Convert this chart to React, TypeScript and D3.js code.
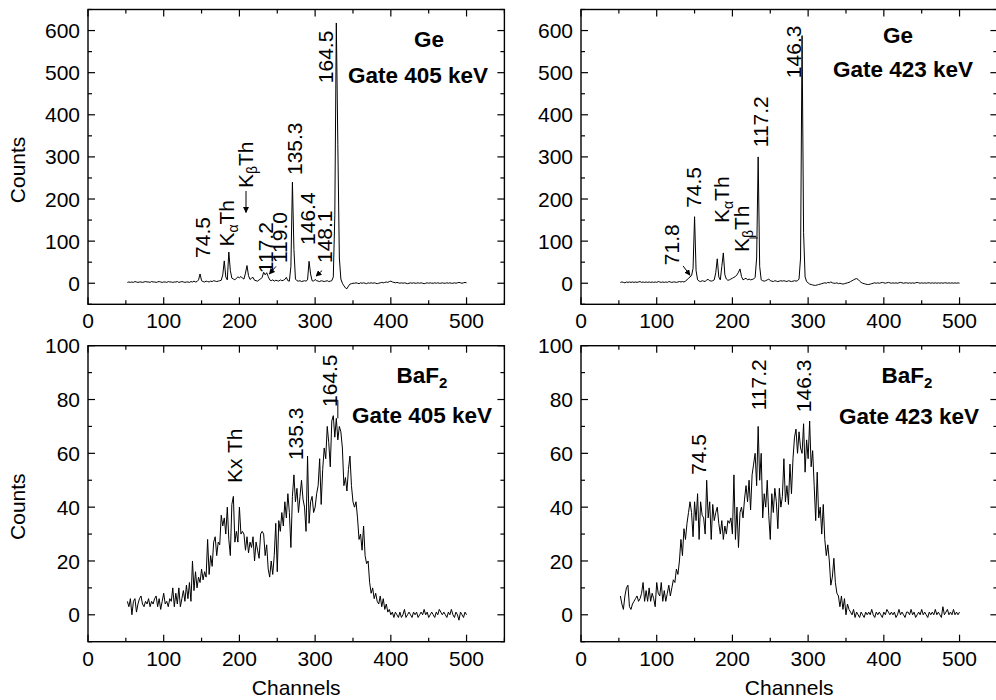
import React from 'react';
import * as d3 from 'd3';

// Spectra sampled every 2 channels from channel 52 to 500
const CH_START = 52;
const CH_STEP = 2;

const geGate405 = [
  2, 3, 2, 3, 2, 4, 3, 2, 3, 3,
  2, 3, 4, 3, 3, 2, 4, 3, 3, 2,
  3, 4, 3, 2, 3, 3, 2, 4, 3, 3,
  2, 3, 3, 4, 2, 3, 4, 3, 2, 3,
  3, 2, 4, 3, 5, 3, 4, 8, 22, 6,
  4, 3, 5, 4, 3, 5, 4, 6, 5, 4,
  5, 6, 7, 20, 53, 15, 8, 74, 30, 12,
  10, 8, 12, 15, 13, 16, 12, 10, 24, 42,
  18, 9, 12, 14, 7, 6, 5, 8, 10, 14,
  26, 20, 25, 16, 8, 6, 8, 5, 7, 6,
  5, 8, 6, 7, 9, 14, 6, 5, 40, 240,
  80, 10, 6, 5, 6, 4, 5, 6, 5, 8,
  52, 22, 6, 5, 9, 6, 5, 4, 6, 5,
  4, 5, 6, 4, 5, 6, 15, 160, 618, 330,
  60, 10, 0, -6, -11, -13, -7, -2, -1, 0,
  0, 1, 0, -1, 1, 0, 1, 0, -1, 1,
  0, 1, 0, 1, 0, -1, 0, 1, 2, 1,
  2, 3, 2, 4, 5, 3, 2, 1, 2, 1,
  0, 1, 0, 1, 0, -1, 0, 1, 0, 1,
  0, 0, 1, 0, 1, 0, -1, 0, 1, 0,
  1, 0, 0, 1, 0, 1, 0, 0, 1, 0,
  0, 1, 0, 1, 0, 0, 1, 0, 1, 2,
  1, 0, 1, 2, 1,
];

const geGate423 = [
  2, 3, 2, 1, 3, 2, 3, 2, 3, 2,
  3, 2, 3, 4, 2, 3, 2, 3, 2, 3,
  2, 3, 2, 3, 2, 4, 3, 2, 3, 2,
  3, 2, 4, 3, 2, 3, 3, 2, 3, 4,
  3, 4, 3, 5, 8, 12, 15, 18, 35, 158,
  30, 8, 5, 4, 6, 5, 4, 8, 9, 6,
  5, 6, 8, 25, 58, 15, 8, 40, 72, 20,
  10, 7, 8, 10, 12, 14, 16, 20, 26, 34,
  16, 8, 10, 12, 8, 10, 8, 9, 10, 14,
  60, 300, 40, 8, 6, 5, 6, 8, 10, 6,
  5, 4, 6, 5, 4, 5, 6, 5, 6, 5,
  4, 6, 5, 4, 5, 6, 5, 6, 10, 60,
  588, 120, 15, 4, 1, -2, -3, -4, -5, -5,
  -4, -3, -2, -1, 0, 1, 0, 2, 1, 3,
  1, 0, 0, 1, -1, 0, -1, -2, -1, 0,
  1, 2, 4, 6, 8, 10, 11, 9, 5, 2,
  0, -1, -2, -3, -3, -2, -1, 0, 1, 0,
  1, 0, 1, 2, 1, 0, 1, 2, 1, 0,
  1, 0, 1, 0, 1, 2, 1, 0, 1, 1,
  0, 1, 0, 1, 0, 1, 2, 1, 0, 1,
  0, 1, 0, 1, 1, 0, 1, 0, 1, 0,
  1, 0, 1, 0, 1, 1, 0, 1, 0, 1,
  0, 1, 0, 1, 0,
];

const baf2Gate405 = [
  5, 3, 6, 0, 5, 6, 1, 4, 6, 7,
  4, 3, 5, 4, 6, 3, 5, 4, 6, 7,
  3, 6, 2, 5, 8, 4, 5, 3, 6, 5,
  10, 3, 8, 4, 10, 3, 6, 9, 5, 11,
  6, 12, 5, 20, 9, 16, 10, 14, 12, 17,
  13, 16, 14, 28, 15, 22, 18, 27, 29, 22,
  27, 26, 37, 33, 36, 30, 40, 28, 22, 41,
  44, 27, 31, 27, 40, 30, 31, 30, 24, 29,
  23, 27, 25, 29, 20, 27, 24, 21, 30, 31,
  30, 22, 26, 17, 14, 20, 15, 22, 34, 16,
  35, 31, 38, 33, 42, 36, 45, 38, 25, 44,
  52, 42, 47, 38, 44, 50, 43, 40, 31, 59,
  34, 42, 44, 38, 40, 45, 48, 58, 41, 54,
  62, 58, 70, 64, 55, 72, 74, 66, 73, 65,
  70, 68, 62, 48, 51, 46, 54, 59, 48, 42,
  40, 42, 36, 28, 30, 24, 33, 22, 19, 20,
  12, 8, 10, 6, 8, 5, 4, 7, 3, 6,
  2, 4, 1, 2, 0, 1, -1, 1, 0, -1,
  1, -1, 0, 2, -1, 0, 1, 0, -1, 1,
  0, 1, -1, 0, 1, 0, 2, 0, 1, -1,
  0, 1, 0, -1, 1, 0, 2, 1, 0, 1,
  0, -1, 1, 0, 2, 0, -1, 1, 0, -2,
  1, 0, -1, 1, 0,
];

const baf2Gate423 = [
  7, 4, 2, 7, 10, 11, 3, 2, 4, 5,
  6, 7, 5, 6, 8, 12, 5, 9, 5, 10,
  5, 8, 6, 3, 12, 8, 7, 12, 5, 9,
  5, 8, 11, 7, 10, 13, 12, 17, 15, 20,
  28, 22, 32, 28, 34, 38, 42, 38, 29, 42,
  35, 45, 28, 42, 37, 36, 30, 50, 36, 42,
  28, 41, 35, 38, 40, 34, 30, 35, 28, 33,
  30, 35, 34, 36, 30, 52, 28, 40, 25, 38,
  40, 36, 43, 48, 42, 50, 39, 52, 56, 60,
  48, 70, 50, 60, 36, 45, 40, 50, 37, 28,
  45, 38, 47, 42, 32, 47, 40, 44, 58, 42,
  48, 41, 56, 45, 58, 66, 69, 60, 68, 62,
  60, 71, 53, 65, 58, 72, 55, 61, 48, 35,
  53, 36, 40, 30, 41, 28, 22, 26, 20, 11,
  14, 21, 12, 8, 7, 3, 7, 2, 6, 0,
  4, 2, 1, 0, 2, -1, 1, 0, -1, 1,
  0, -1, 1, 0, 1, 0, 2, 0, -1, 1,
  0, 1, 0, -1, 1, 0, 2, 1, 0, 1,
  0, 1, -1, 0, 2, 0, 1, 0, -1, 1,
  1, 0, 2, 0, 1, -1, 0, 1, 0, 2,
  0, 1, 0, -1, 1, 0, 1, 0, 2, 0,
  1, 0, -1, 3, 0, 1, 2, 0, 1, 0,
  2, 0, 1, 0, 1,
];

// Axis ticks
const xMajorTicks = [0, 100, 200, 300, 400, 500];
const geMajorTicks = [0, 100, 200, 300, 400, 500, 600];
const bafMajorTicks = [0, 20, 40, 60, 80, 100];

type Seg = { t: string; sub?: boolean };
type Label = { parts: Seg[]; ch: number; y: number };
type Arrow = { from: [number, number]; to: [number, number] };

// Peak annotations, anchored in data coordinates (channel, counts)
const ge405Labels: Label[] = [
  { parts: [{ t: '74.5' }], ch: 161, y: 60 },
  { parts: [{ t: 'K' }, { t: 'α', sub: true }, { t: 'Th' }], ch: 193, y: 87 },
  { parts: [{ t: 'K' }, { t: 'β', sub: true }, { t: 'Th' }], ch: 218, y: 226 },
  { parts: [{ t: '117.2' }], ch: 244, y: 24 },
  { parts: [{ t: '119.0' }], ch: 263, y: 48 },
  { parts: [{ t: '135.3' }], ch: 282.7, y: 257 },
  { parts: [{ t: '146.4' }], ch: 300, y: 91 },
  { parts: [{ t: '148.1' }], ch: 322, y: 48 },
  { parts: [{ t: '164.5' }], ch: 323.6, y: 475 },
];
const ge405Arrows: Arrow[] = [
  { from: [208.7, 219], to: [208.7, 168] },
  { from: [248.3, 40], to: [239.5, 22] },
  { from: [309.2, 30], to: [301.2, 17] },
];
const ge423Labels: Label[] = [
  { parts: [{ t: '71.8' }], ch: 129.5, y: 43 },
  { parts: [{ t: '74.5' }], ch: 158.6, y: 179 },
  { parts: [{ t: 'K' }, { t: 'α', sub: true }, { t: 'Th' }], ch: 195.6, y: 143 },
  { parts: [{ t: 'K' }, { t: 'β', sub: true }, { t: 'Th' }], ch: 222, y: 74 },
  { parts: [{ t: '117.2' }], ch: 247, y: 323 },
  { parts: [{ t: '146.3' }], ch: 290.7, y: 487 },
];
const ge423Arrows: Arrow[] = [{ from: [134.8, 41], to: [144, 19] }];
const ge423Leaders: [number, number][][] = [[[222.4, 107.5], [233.5, 107.5]]];

const baf405Labels: Label[] = [
  { parts: [{ t: 'Kx Th' }], ch: 203.4, y: 49 },
  { parts: [{ t: '135.3' }], ch: 284, y: 57.5 },
  { parts: [{ t: '164.5' }], ch: 329, y: 77.2 },
];
const baf405Leaders: [number, number][][] = [[[313.3, 79.7], [330, 79.7], [330, 73]]];

const baf423Labels: Label[] = [
  { parts: [{ t: '74.5' }], ch: 165.2, y: 52 },
  { parts: [{ t: '117.2' }], ch: 244.5, y: 76 },
  { parts: [{ t: '146.3' }], ch: 304, y: 75.3 },
];

const FONT = '"Liberation Sans", Arial, Helvetica, sans-serif';

type PanelProps = {
  left: number;
  top: number;
  width: number;
  height: number;
  yDomain: [number, number];
  yMajor: number[];
  yMinorStep: number;
  data: number[];
  labels: Label[];
  arrows?: Arrow[];
  leaders?: [number, number][][];
  title: React.ReactNode;
  showCounts: boolean;
  showChannels: boolean;
  countsDy: number;
};

function Panel(p: PanelProps) {
  const x = d3.scaleLinear().domain([0, 550]).range([p.left, p.left + p.width]);
  const y = d3.scaleLinear().domain(p.yDomain).range([p.top + p.height, p.top]);
  const bottom = p.top + p.height;
  const right = p.left + p.width;

  const line = d3
    .line<number>()
    .x((_, i) => x(CH_START + i * CH_STEP))
    .y((d) => y(d));

  const xMinor = d3.range(50, 551, 100);
  const yMinor = d3
    .range(p.yDomain[0], p.yDomain[1] + 0.001, p.yMinorStep)
    .filter((v) => !p.yMajor.includes(v));

  const MAJ = 7;
  const MIN = 4;

  return (
    <g>
      <path d={line(p.data) || ''} fill="none" stroke="#000" strokeWidth={1} strokeLinejoin="round" />

      {/* ticks */}
      {xMajorTicks.map((t) => (
        <g key={'xM' + t}>
          <line x1={x(t)} x2={x(t)} y1={bottom} y2={bottom - MAJ} stroke="#000" strokeWidth={1.2} />
          <line x1={x(t)} x2={x(t)} y1={p.top} y2={p.top + MAJ} stroke="#000" strokeWidth={1.2} />
          <text x={x(t)} y={bottom + 24} textAnchor="middle" fontSize={21} fontFamily={FONT}>
            {t}
          </text>
        </g>
      ))}
      {xMinor.map((t) => (
        <g key={'xm' + t}>
          <line x1={x(t)} x2={x(t)} y1={bottom} y2={bottom - MIN} stroke="#000" strokeWidth={1.2} />
          <line x1={x(t)} x2={x(t)} y1={p.top} y2={p.top + MIN} stroke="#000" strokeWidth={1.2} />
        </g>
      ))}
      {p.yMajor.map((t) => (
        <g key={'yM' + t}>
          <line x1={p.left} x2={p.left + MAJ} y1={y(t)} y2={y(t)} stroke="#000" strokeWidth={1.2} />
          <line x1={right} x2={right - MAJ} y1={y(t)} y2={y(t)} stroke="#000" strokeWidth={1.2} />
          <text x={p.left - 8} y={y(t)} dy="0.36em" textAnchor="end" fontSize={21} fontFamily={FONT}>
            {t}
          </text>
        </g>
      ))}
      {yMinor.map((t) => (
        <g key={'ym' + t}>
          <line x1={p.left} x2={p.left + MIN} y1={y(t)} y2={y(t)} stroke="#000" strokeWidth={1.2} />
          <line x1={right} x2={right - MIN} y1={y(t)} y2={y(t)} stroke="#000" strokeWidth={1.2} />
        </g>
      ))}

      <rect x={p.left} y={p.top} width={p.width} height={p.height} fill="none" stroke="#000" strokeWidth={1.4} />

      {/* peak labels */}
      {p.labels.map((l, i) => (
        <text
          key={'l' + i}
          transform={`translate(${x(l.ch)},${y(l.y)}) rotate(-90)`}
          fontSize={21}
          fontFamily={FONT}
        >
          {l.parts.map((s, j) =>
            s.sub ? (
              <tspan key={j} fontSize={14} dy="0.3em">
                {s.t}
              </tspan>
            ) : j > 0 && l.parts[j - 1].sub ? (
              <tspan key={j} dy="-0.2em">
                {s.t}
              </tspan>
            ) : (
              <tspan key={j}>{s.t}</tspan>
            )
          )}
        </text>
      ))}
      {(p.arrows || []).map((a, i) => (
        <line
          key={'a' + i}
          x1={x(a.from[0])}
          y1={y(a.from[1])}
          x2={x(a.to[0])}
          y2={y(a.to[1])}
          stroke="#000"
          strokeWidth={1}
          markerEnd="url(#arrowHead)"
        />
      ))}
      {(p.leaders || []).map((pts, i) => (
        <polyline
          key={'ld' + i}
          points={pts.map((q) => `${x(q[0])},${y(q[1])}`).join(' ')}
          fill="none"
          stroke="#000"
          strokeWidth={1}
        />
      ))}

      {p.title}

      {p.showCounts && (
        <text
          transform={`translate(25,${p.top + p.height / 2 + p.countsDy}) rotate(-90)`}
          textAnchor="middle"
          fontSize={21}
          fontFamily={FONT}
        >
          Counts
        </text>
      )}
      {p.showChannels && (
        <text x={(p.left + right) / 2} y={695} textAnchor="middle" fontSize={21} fontFamily={FONT}>
          Channels
        </text>
      )}
    </g>
  );
}

function Title({ cx, y1, y2, first, second }: { cx: [number, number]; y1: number; y2: number; first: React.ReactNode; second: string }) {
  return (
    <g fontFamily={FONT} fontWeight="bold" fontSize={22.5} textAnchor="middle">
      <text x={cx[0]} y={y1}>{first}</text>
      <text x={cx[1]} y={y2}>{second}</text>
    </g>
  );
}

const baF2 = (
  <>
    BaF<tspan fontSize={15} dy="0.3em">2</tspan>
  </>
);

export default function App() {
  const LW = 416.4;
  const topH = 294.8;
  const botH = 296;
  return (
    <svg
      width={996}
      height={700}
      style={{ position: 'absolute', left: 0, top: 0, background: '#fff' }}
    >
      <defs>
        <marker id="arrowHead" viewBox="0 0 10 10" refX="9" refY="5" markerWidth="6" markerHeight="6" orient="auto">
          <path d="M0,0 L10,5 L0,10 z" fill="#000" />
        </marker>
      </defs>
      <rect x={0} y={0} width={996} height={700} fill="#fff" />
      <Panel
        left={88}
        top={9.5}
        width={LW}
        height={topH}
        yDomain={[-50, 650]}
        yMajor={geMajorTicks}
        yMinorStep={50}
        data={geGate405}
        labels={ge405Labels}
        arrows={ge405Arrows}
        title={<Title cx={[429, 418]} y1={46.5} y2={82.5} first="Ge" second="Gate 405 keV" />}
        showCounts
        showChannels={false}
        countsDy={13}
      />
      <Panel
        left={581}
        top={9.5}
        width={LW}
        height={topH}
        yDomain={[-50, 650]}
        yMajor={geMajorTicks}
        yMinorStep={50}
        data={geGate423}
        labels={ge423Labels}
        arrows={ge423Arrows}
        leaders={ge423Leaders}
        title={<Title cx={[898, 903]} y1={43.3} y2={77.3} first="Ge" second="Gate 423 keV" />}
        showCounts={false}
        showChannels={false}
        countsDy={0}
      />
      <Panel
        left={88}
        top={345.7}
        width={LW}
        height={botH}
        yDomain={[-10, 100]}
        yMajor={bafMajorTicks}
        yMinorStep={10}
        data={baf2Gate405}
        labels={baf405Labels}
        leaders={baf405Leaders}
        title={<Title cx={[422, 422]} y1={383.3} y2={422.7} first={baF2} second="Gate 405 keV" />}
        showCounts
        showChannels
        countsDy={13}
      />
      <Panel
        left={581}
        top={345.7}
        width={LW}
        height={botH}
        yDomain={[-10, 100]}
        yMajor={bafMajorTicks}
        yMinorStep={10}
        data={baf2Gate423}
        labels={baf423Labels}
        title={<Title cx={[907, 909]} y1={383.3} y2={424.3} first={baF2} second="Gate 423 keV" />}
        showCounts={false}
        showChannels
        countsDy={0}
      />
    </svg>
  );
}
